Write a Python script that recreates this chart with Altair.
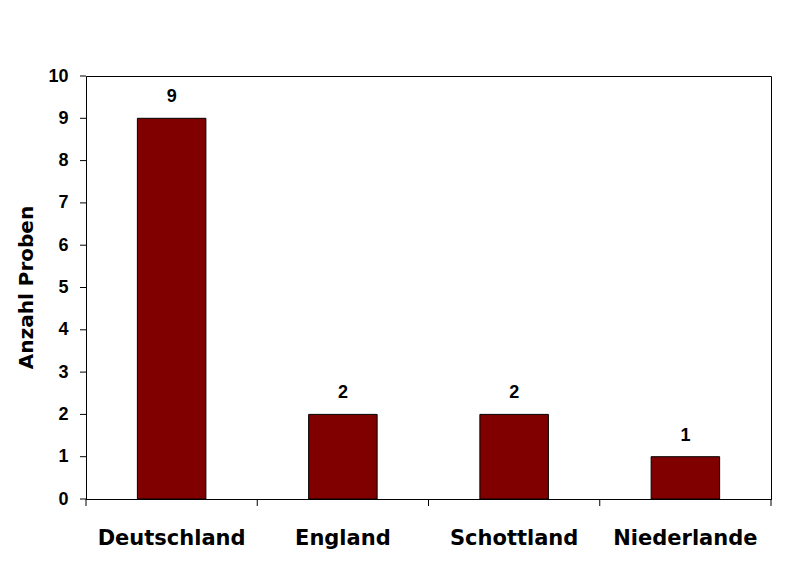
import altair as alt
import pandas as pd

countries = ["Deutschland", "England", "Schottland", "Niederlande"]
counts = [9, 2, 2, 1]
y_ticks = list(range(0, 11))

df = pd.DataFrame({"Land": countries, "Anzahl": counts})
df_last = pd.DataFrame({"Land": countries[-1:]})
df_yt = pd.DataFrame({"v": y_ticks})

x_axis = alt.Axis(
    title=None,
    labelAngle=0,
    labelFont="DejaVu Sans",
    labelFontWeight="bold",
    labelFontSize=21,
    labelColor="black",
    labelPadding=28,
    ticks=False,
    domainColor="black",
    grid=False,
)
x_scale = alt.Scale(paddingInner=0, paddingOuter=0)
x_enc = alt.X("Land:N", sort=countries, scale=x_scale, axis=x_axis)
y_scale = alt.Scale(domain=[0, 10], nice=False)
y_enc = alt.Y(
    "Anzahl:Q",
    scale=y_scale,
    axis=alt.Axis(
        title="Anzahl Proben",
        values=y_ticks,
        format="d",
        labelFont="Liberation Sans",
        labelFontWeight="bold",
        labelFontSize=18,
        labelColor="black",
        labelPadding=18,
        ticks=False,
        domainColor="black",
        grid=False,
        titleFont="DejaVu Sans",
        titleFontWeight="bold",
        titleFontSize=20,
        titleColor="black",
        titleX=-60,
        titleY=211,
        titleAlign="center",
        titleBaseline="middle",
        titleAngle=-90,
    ),
)

bars = alt.Chart(df).mark_bar(
    color="#800000", stroke="black", strokeWidth=1, width={"band": 0.4}
).encode(x=x_enc, y=y_enc)

labels = alt.Chart(df).mark_text(
    font="Liberation Sans", fontWeight="bold", fontSize=18, color="black",
    dy=-21, baseline="middle"
).encode(x=x_enc, y=y_enc, text="Anzahl:Q")

xticks = alt.Chart(df).mark_rule(color="black", strokeWidth=1).encode(
    x=alt.X("Land:N", sort=countries, bandPosition=0),
    y=alt.value(423),
    y2=alt.value(430),
)
xtick_end = alt.Chart(df_last).mark_rule(color="black", strokeWidth=1).encode(
    x=alt.X("Land:N", sort=countries, bandPosition=1),
    y=alt.value(423),
    y2=alt.value(430),
)
yticks = alt.Chart(df_yt).mark_rule(color="black", strokeWidth=1).encode(
    y=alt.Y("v:Q"),
    x=alt.value(-6),
    x2=alt.value(0),
)

chart = (
    alt.layer(bars, labels, xticks, xtick_end, yticks)
    .properties(
        width=685,
        height=423,
        autosize=alt.AutoSizeParams(type="none"),
        padding={"left": 78, "top": 68, "right": 20, "bottom": 60},
        background="white",
    )
    .configure_view(stroke="black", strokeWidth=1)
)

chart.save("out.html", embed_options={"renderer": "svg", "actions": False})
